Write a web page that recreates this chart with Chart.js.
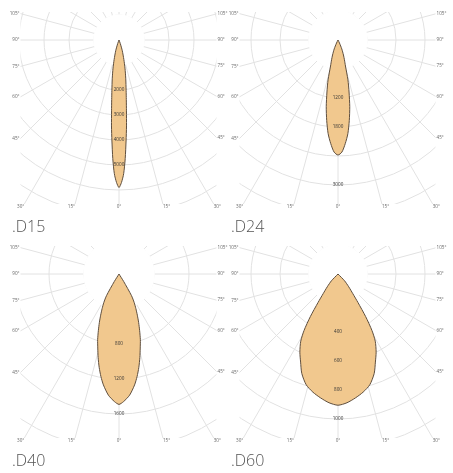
<!DOCTYPE html>
<html><head><meta charset="utf-8">
<script src="https://cdn.jsdelivr.net/npm/chart.js@4.4.1/dist/chart.umd.min.js"></script>
<style>
html,body{margin:0;padding:0;background:#fff;overflow:hidden;width:453px;height:473px;position:relative}
canvas{position:absolute}
.cap{position:absolute;font-family:'Open Sans',sans-serif;font-weight:300;font-size:16px;line-height:16px;color:#555;white-space:nowrap}
</style></head><body>
<script>
// ---- data ----
const panelNames = ['.D15', '.D24', '.D40', '.D60'];
const angleTickDegrees = [0, 15, 30, 45, 60, 75, 90, 105];

const d15Angles = [0, 1, 2, 3, 4, 5, 6, 7, 8, 10, 12, 14, 17, 20, 22];
const d15Values = [5900, 5700, 5350, 4750, 4050, 3450, 2850, 2400, 2050, 1550, 1150, 800, 450, 150, 0];
const d15Ticks = [2000, 3000, 4000, 5000];

const d24Angles = [0, 2, 4, 6, 8, 10, 12, 14, 16, 18, 20, 23, 26, 28];
const d24Values = [2380, 2320, 2150, 1950, 1680, 1400, 1100, 850, 560, 430, 330, 200, 70, 0];
const d24Ticks = [1200, 1800, 3000];

const d40Angles = [0, 2, 5, 8, 10, 12, 14, 16, 18, 20, 22, 24, 26, 28, 30, 32, 34];
const d40Values = [1490, 1460, 1390, 1280, 1190, 1090, 985, 880, 790, 690, 600, 515, 440, 370, 285, 100, 0];
const d40Ticks = [800, 1200, 1600];

const d60Angles = [0, 4, 8, 12, 16, 20, 23, 26, 29, 31, 33, 35, 37, 40, 44, 48];
const d60Values = [905, 890, 863, 833, 795, 730, 660, 600, 530, 455, 350, 240, 170, 115, 65, 0];
const d60Ticks = [400, 600, 800, 1000];

const gridSteps = [1000, 600, 400, 200];

// ---- layout / style ----
const panels = [
  {name: panelNames[0], angles: d15Angles, values: d15Values, ticks: d15Ticks, step: gridSteps[0], px: 25, n: 8, cx: 119, cy: 40},
  {name: panelNames[1], angles: d24Angles, values: d24Values, ticks: d24Ticks, step: gridSteps[1], px: 29, n: 8, cx: 338, cy: 40},
  {name: panelNames[2], angles: d40Angles, values: d40Values, ticks: d40Ticks, step: gridSteps[2], px: 35, n: 7, cx: 119, cy: 274},
  {name: panelNames[3], angles: d60Angles, values: d60Values, ticks: d60Ticks, step: gridSteps[3], px: 29, n: 8, cx: 338, cy: 274}
];
const GRID = '#e2e2e2';
const FILL = '#f1c88e';
const EDGE = '#5e4e3e';
const degreeLabels = Array.from({length: 360}, (_, i) => i + '°');

function fullProfile(angles, values) {
  const arr = new Array(360).fill(null);
  angles.forEach((a, k) => { arr[a] = values[k]; arr[(360 - a) % 360] = values[k]; });
  return arr;
}

function makePlugin(p, R) {
  const rect = {x: R - 98.5, y: R - 28, w: 196, h: 192};
  return {
    id: 'photometric',
    beforeDraw(chart) {
      const ctx = chart.ctx;
      ctx.save();
      ctx.beginPath();
      ctx.rect(rect.x, rect.y, rect.w, rect.h);
      ctx.clip();
    },
    beforeDatasetsDraw(chart) {
      const s = chart.scales.r, ctx = chart.ctx;
      const rad = s.getDistanceFromCenterForValue(p.step);
      ctx.save();
      ctx.fillStyle = '#ffffff';
      ctx.beginPath();
      ctx.arc(s.xCenter, s.yCenter, rad + 0.8, 0, Math.PI * 2);
      ctx.fill();
      ctx.restore();
    },
    afterDraw(chart) {
      const ctx = chart.ctx, s = chart.scales.r;
      ctx.restore();
      ctx.save();
      // radial value labels
      ctx.font = '4.6px "Open Sans", sans-serif';
      ctx.fillStyle = '#333';
      ctx.textAlign = 'center';
      ctx.textBaseline = 'middle';
      p.ticks.forEach(v => {
        const pt = s.getPointPositionForValue(0, v);
        ctx.fillText(String(v), pt.x, pt.y);
      });
      // angle labels at the frame edge
      ctx.fillStyle = '#666';
      const xc = s.xCenter, yc = s.yCenter;
      angleTickDegrees.forEach(a => {
        const idxs = a === 0 ? [0] : [a, 360 - a];
        idxs.forEach(i => {
          const q = s.getPointPosition(i, 1);
          const dx = q.x - xc, dy = q.y - yc;
          let tSide = Infinity, tBot = Infinity, tTop = Infinity;
          if (dx < -1e-6) tSide = (rect.x - xc) / dx;
          if (dx > 1e-6) tSide = (rect.x + rect.w - xc) / dx;
          if (dy > 1e-6) tBot = (rect.y + rect.h - yc) / dy;
          if (dy < -1e-6) tTop = (rect.y - yc) / dy;
          const t = Math.min(tSide, tBot, tTop);
          const x = xc + dx * t, y = yc + dy * t;
          if (t === tSide) {
            ctx.textAlign = dx < 0 ? 'right' : 'left';
            ctx.textBaseline = 'middle';
            ctx.fillText(a + '°', dx < 0 ? x - 1 : x + 1, y);
          } else if (t === tBot) {
            ctx.textAlign = dx < -0.01 ? 'right' : (dx > 0.01 ? 'left' : 'center');
            ctx.textBaseline = 'middle';
            ctx.fillText(a + '°', x, y + 3);
          }
        });
      });
      ctx.restore();
    }
  };
}

panels.forEach(p => {
  const R = p.px * p.n;
  const cv = document.createElement('canvas');
  cv.width = 2 * R; cv.height = 2 * R;
  cv.style.left = (p.cx - R) + 'px';
  cv.style.top = (p.cy - R) + 'px';
  cv.style.width = 2 * R + 'px';
  cv.style.height = 2 * R + 'px';
  document.body.appendChild(cv);

  const cap = document.createElement('div');
  cap.className = 'cap';
  cap.textContent = p.name;
  cap.style.left = (p.cx - 107) + 'px';
  cap.style.top = (p.cy + 178) + 'px';
  document.body.appendChild(cap);

  new Chart(cv, {
    type: 'radar',
    data: {
      labels: degreeLabels,
      datasets: [{
        data: fullProfile(p.angles, p.values),
        backgroundColor: FILL,
        borderColor: EDGE,
        borderWidth: 1,
        fill: true,
        spanGaps: true,
        tension: 0.25,
        pointRadius: 0,
        pointHitRadius: 0
      }]
    },
    options: {
      responsive: false,
      animation: false,
      devicePixelRatio: 1,
      layout: {padding: 0},
      plugins: {legend: {display: false}, tooltip: {enabled: false}},
      scales: {
        r: {
          min: 0,
          max: p.step * p.n,
          startAngle: 180,
          ticks: {display: false, stepSize: p.step},
          pointLabels: {display: false},
          grid: {circular: true, color: GRID, lineWidth: 1},
          angleLines: {color: GRID, lineWidth: c => (c.index % 15 === 0 ? 1 : 0)}
        }
      }
    },
    plugins: [makePlugin(p, R)]
  });
});
</script>
</body></html>
